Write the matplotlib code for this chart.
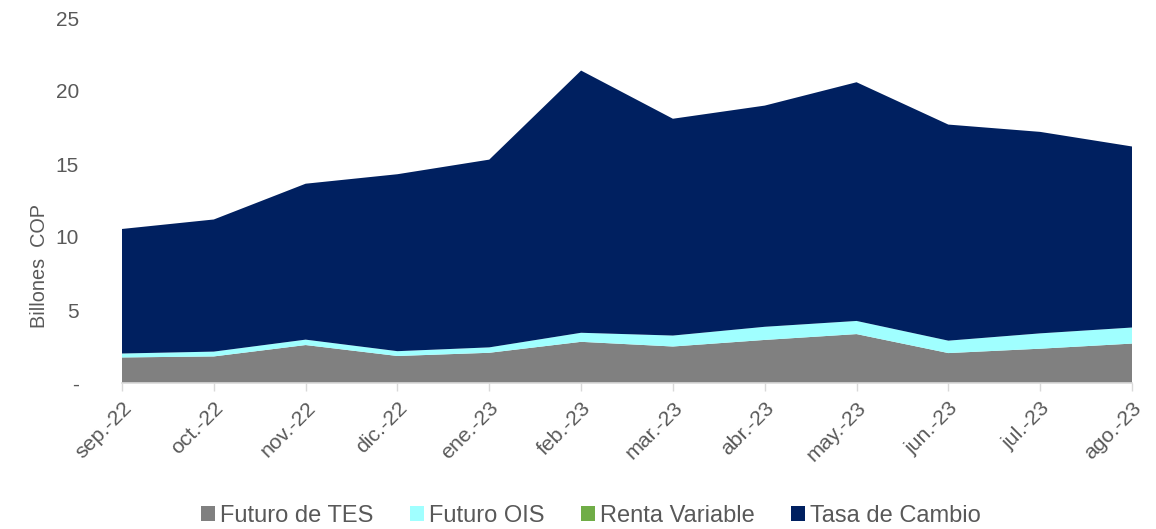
import numpy as np
import matplotlib.pyplot as plt

plt.rcParams['font.family'] = ['Liberation Sans', 'DejaVu Sans']

meses = ['sep.-22', 'oct.-22', 'nov.-22', 'dic.-22', 'ene.-23', 'feb.-23',
         'mar.-23', 'abr.-23', 'may.-23', 'jun.-23', 'jul.-23', 'ago.-23']

futuro_tes = [1.75, 1.82, 2.6, 1.85, 2.07, 2.82, 2.5, 2.95, 3.35, 2.05, 2.35, 2.7]
futuro_ois = [0.27, 0.33, 0.37, 0.33, 0.37, 0.62, 0.75, 0.9, 0.9, 0.85, 1.05, 1.1]
renta_var = [0.0, 0.0, 0.0, 0.0, 0.0, 0.0, 0.0, 0.0, 0.0, 0.0, 0.0, 0.0]
total = [10.55, 11.2, 13.65, 14.3, 15.3, 21.4, 18.1, 19.0, 20.6, 17.7, 17.2, 16.2]

tasa_cambio = [t - a - b - c for t, a, b, c in zip(total, futuro_tes, futuro_ois, renta_var)]

colores = ['#808080', '#A0FFFF', '#70AD47', '#002060']
nombres = ['Futuro de TES', 'Futuro OIS', 'Renta Variable', 'Tasa de Cambio']

fig = plt.figure(figsize=(11.56, 5.29), dpi=100)
ax = fig.add_axes([122 / 1156, 1 - 383 / 529, (1132 - 122) / 1156, (383 - 18) / 529])

x = np.arange(len(meses))
ax.stackplot(x, futuro_tes, futuro_ois, renta_var, tasa_cambio,
             colors=colores, labels=nombres, linewidth=0)

ax.set_xlim(0, len(meses) - 1)
ax.set_ylim(0, 25)
ax.set_yticks([0, 5, 10, 15, 20, 25])
ax.set_yticklabels(['-', '5', '10', '15', '20', '25'])
ax.set_xticks(x)
ax.set_xticklabels(meses, rotation=45, ha='right', rotation_mode='anchor')

gris = '#595959'
ax.tick_params(axis='y', length=0, pad=31, labelsize=15)
for t in ax.get_yticklabels():
    t.set_horizontalalignment('right')
    t.set_color(gris)
ax.tick_params(axis='x', length=6, width=1, color='#D9D9D9', pad=5, labelsize=15.3, labelcolor=gris)
for lado in ['left', 'right', 'top']:
    ax.spines[lado].set_visible(False)
ax.spines['bottom'].set_color('#D9D9D9')
ax.spines['bottom'].set_linewidth(1.2)

ax.set_ylabel('Billones  COP', fontsize=14.3, color=gris)
ax.yaxis.set_label_coords(-0.072, (383 - 266) / 365)

handles, labels = ax.get_legend_handles_labels()
fig.legend(handles, labels, loc='center', bbox_to_anchor=(591 / 1156, 1 - 516 / 529),
           ncol=4, frameon=False, fontsize=17, labelcolor=gris,
           handlelength=0.6, handleheight=0.6, handletextpad=0.2, columnspacing=1.55)

fig.savefig('out.png', dpi=100)
